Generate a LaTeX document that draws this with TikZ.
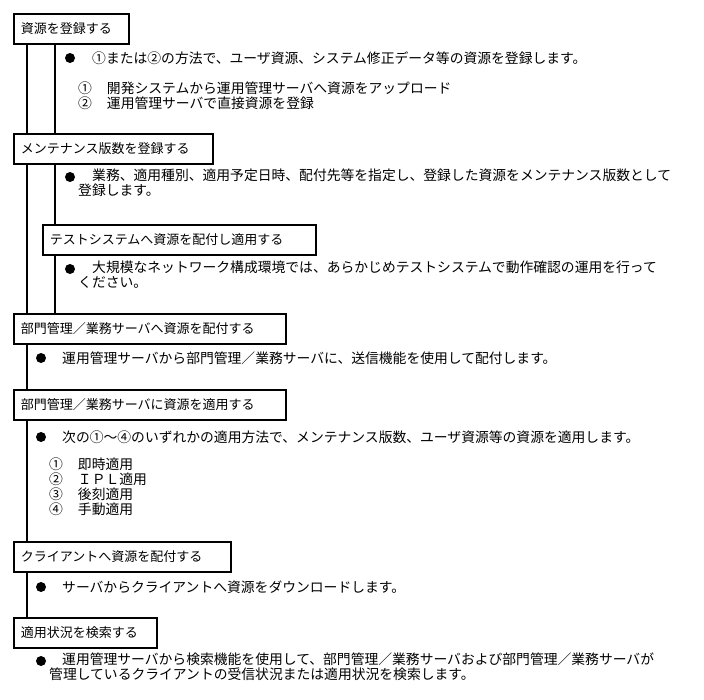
\documentclass[tikz,border=0pt]{standalone}
\usepackage{fontspec}
\newfontfamily\jp{Noto Sans CJK JP}
\begin{document}
\begin{tikzpicture}[x=1pt,y=-1pt,
  box/.style={draw,line width=1.6pt,anchor=north west,inner xsep=7pt,inner ysep=0pt,minimum height=30pt,font=\jp\fontsize{13}{14}\selectfont,align=left},
  txt/.style={anchor=west,inner sep=0pt,font=\jp\fontsize{13.8}{15}\selectfont,align=left},
  bul/.style={circle,fill=black,inner sep=0pt,minimum size=10pt},
  ln/.style={line width=1.6pt}]
\useasboundingbox (0,0) rectangle (704,699);
\node[box,text width=101pt] (b1) at (13,13) {資源を登録する};
\node[box,text width=185pt] (b2) at (13,133) {メンテナンス版数を登録する};
\node[box,text width=259pt] (b3) at (42,224) {テストシステムへ資源を配付し適用する};
\node[box,text width=258pt] (b4) at (13,313) {部門管理／業務サーバへ資源を配付する};
\node[box,text width=258pt] (b5) at (13,389) {部門管理／業務サーバに資源を適用する};
\node[box,text width=203pt] (b6) at (13,541) {クライアントへ資源を配付する};
\node[box,text width=129pt] (b7) at (13,617) {適用状況を検索する};
\draw[ln] (27,43) -- (27,133) (27,163) -- (27,313) (27,343) -- (27,389) (27,419) -- (27,541) (27,571) -- (27,617);
\draw[ln] (55,43) -- (55,133) (55,163) -- (55,224) (55,254) -- (55,313);
\node[bul] (p1) at (70,58) {};
\node[txt] (t1) at (92,58) {①または②の方法で、ユーザ資源、システム修正データ等の資源を登録します。};
\node[txt] (t1a) at (78,95.5) {①\hspace{15pt}開発システムから運用管理サーバへ資源をアップロード\\②\hspace{15pt}運用管理サーバで直接資源を登録};
\node[bul] (p2) at (70,177) {};
\node[txt,anchor=north west] (t2) at (78,169) {\hspace{14pt}業務、適用種別、適用予定日時、配付先等を指定し、登録した資源をメンテナンス版数として\\登録します。};
\node[bul] (p3) at (70,269) {};
\node[txt,anchor=north west] (t3) at (78,261) {\hspace{14pt}大規模なネットワーク構成環境では、あらかじめテストシステムで動作確認の運用を行って\\ください。};
\node[bul] (p4) at (41,358) {};
\node[txt] (t4) at (62,358) {運用管理サーバから部門管理／業務サーバに、送信機能を使用して配付します。};
\node[bul] (p5) at (41,437) {};
\node[txt] (t5) at (62,437) {次の①～④のいずれかの適用方法で、メンテナンス版数、ユーザ資源等の資源を適用します。};
\node[txt,anchor=north west] (t5a) at (49,458) {①\hspace{15pt}即時適用\\②\hspace{15pt}ＩＰＬ適用\\③\hspace{15pt}後刻適用\\④\hspace{15pt}手動適用};
\node[bul] (p6) at (41,587) {};
\node[txt] (t6) at (62,587) {サーバからクライアントへ資源をダウンロードします。};
\node[bul] (p7) at (41,661) {};
\node[txt,anchor=north west] (t7) at (49,653) {\hspace{13pt}運用管理サーバから検索機能を使用して、部門管理／業務サーバおよび部門管理／業務サーバが\\管理しているクライアントの受信状況または適用状況を検索します。};
\end{tikzpicture}
\end{document}
